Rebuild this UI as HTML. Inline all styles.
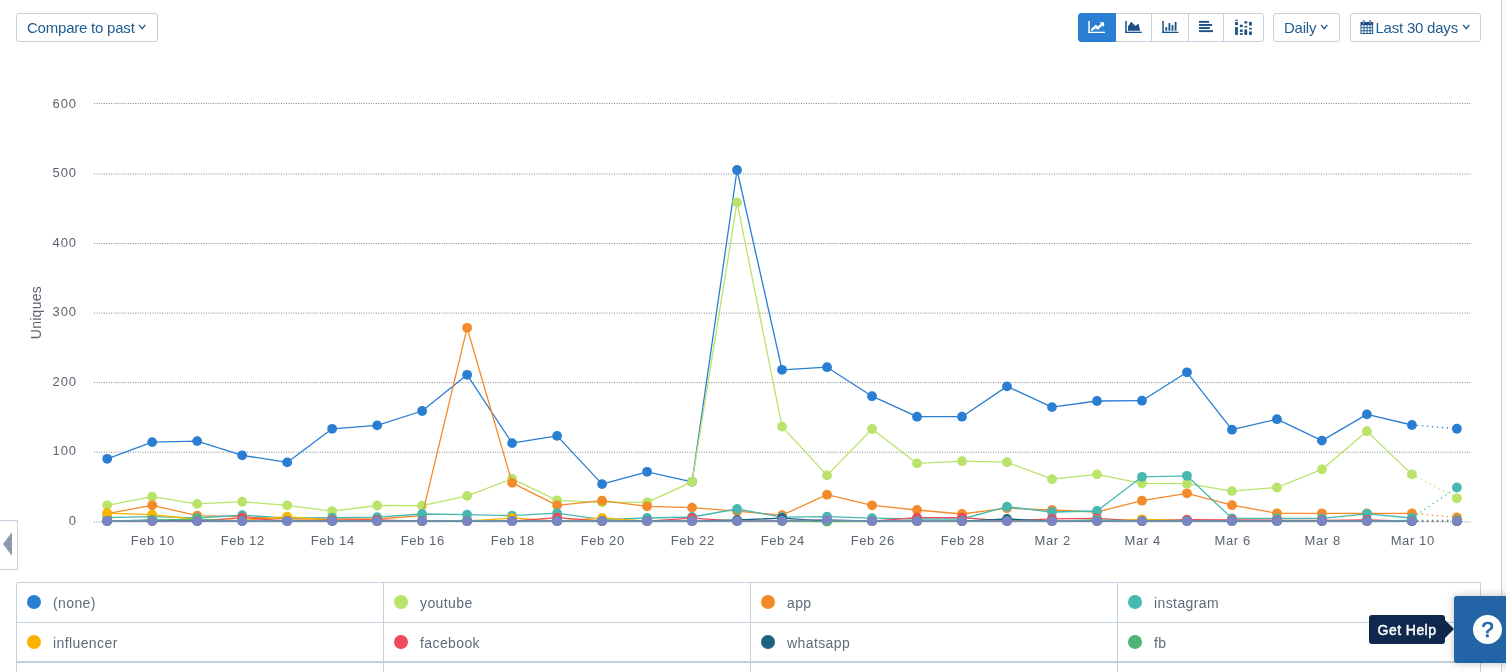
<!DOCTYPE html>
<html lang="en">
<head>
<meta charset="utf-8">
<title>Chart</title>
<style>
*{box-sizing:border-box;margin:0;padding:0}
html,body{width:1506px;height:672px;overflow:hidden;background:#fff}
body{position:relative;font-family:"Liberation Sans",sans-serif;color:#1d5a8c}
.abs{position:absolute}
.btn{position:absolute;top:13px;height:29px;border:1px solid #c5d0de;border-radius:3px;background:#fff;color:#1f5c8f;font-size:15px;letter-spacing:-0.22px;line-height:27px;white-space:nowrap}
.chart{position:absolute;left:0;top:0}
.ax{font-family:"Liberation Sans",sans-serif;font-size:13px;letter-spacing:.6px;fill:#5b6470}
.vline{position:absolute;left:1501px;top:0;width:5px;height:672px;background:#fafafa;border-left:1px solid #c9d1dc}
.tab{position:absolute;left:-1px;top:520px;width:19px;height:50px;border:1px solid #c5d0de;background:#fff}
.tab:after{content:"";position:absolute;left:3px;top:10.5px;border-right:9px solid #8b9bb3;border-top:12px solid transparent;border-bottom:12px solid transparent}
.legend{position:absolute;left:16px;top:582px;width:1465px;height:100px;border-left:1px solid #c5d0de;border-top:1px solid #c5d0de;border-right:1px solid #c5d0de;border-top-left-radius:2px;border-top-right-radius:2px}
.cell{position:absolute;height:40px;border-bottom:1px solid #c5d0de;border-right:1px solid #c5d0de;font-size:14px;letter-spacing:.4px;color:#5f6b7a;line-height:39px;padding-left:36px;padding-top:1px}
.cell i{position:absolute;left:10px;top:12px;width:14px;height:14px;border-radius:50%}
.help{position:absolute;left:1454px;top:596px;width:60px;height:67px;background:#2264a5;border-radius:3px;box-shadow:0 0 8px rgba(0,0,0,.25)}
.help b{position:absolute;left:19px;top:19px;width:29px;height:29px;border-radius:50%;background:#fff;color:#2264a5;font-size:22px;line-height:30px;text-align:center;font-weight:normal;-webkit-text-stroke:.7px #2264a5}
.tip{position:absolute;left:1369px;top:615px;width:76px;height:29px;background:#10284d;border-radius:3px;color:#fff;font-size:14px;font-weight:normal;-webkit-text-stroke:.45px #fff;letter-spacing:.45px;line-height:31px;text-align:center}
.tip:after{content:"";position:absolute;left:76px;top:5px;border-left:9px solid #10284d;border-top:9.5px solid transparent;border-bottom:9.5px solid transparent}

.grp{position:absolute;left:1078px;top:13px;width:186px;height:29px}
.gb{position:absolute;top:0;height:29px;border:1px solid #c5d0de;background:#fff}
.gb.on{z-index:1;background:#2b7fd3;border-color:#2b7fd3;border-radius:3px 0 0 3px}
</style>
</head>
<body>
<svg class="chart" width="1506" height="672" viewBox="0 0 1506 672">
<line x1="94" x2="1470.5" y1="103.5" y2="103.5" stroke="#80858c" stroke-width="1" stroke-dasharray="1 1.43"/>
<text x="77" y="107.60" text-anchor="end" class="ax" style="letter-spacing:.9px">600</text>
<line x1="94" x2="1470.5" y1="174.0" y2="174.0" stroke="#80858c" stroke-width="1" stroke-dasharray="1 1.43"/>
<text x="77" y="177.17" text-anchor="end" class="ax" style="letter-spacing:.9px">500</text>
<line x1="94" x2="1470.5" y1="243.5" y2="243.5" stroke="#80858c" stroke-width="1" stroke-dasharray="1 1.43"/>
<text x="77" y="246.74" text-anchor="end" class="ax" style="letter-spacing:.9px">400</text>
<line x1="94" x2="1470.5" y1="313.1" y2="313.1" stroke="#80858c" stroke-width="1" stroke-dasharray="1 1.43"/>
<text x="77" y="316.31" text-anchor="end" class="ax" style="letter-spacing:.9px">300</text>
<line x1="94" x2="1470.5" y1="382.6" y2="382.6" stroke="#80858c" stroke-width="1" stroke-dasharray="1 1.43"/>
<text x="77" y="385.88" text-anchor="end" class="ax" style="letter-spacing:.9px">200</text>
<line x1="94" x2="1470.5" y1="452.2" y2="452.2" stroke="#80858c" stroke-width="1" stroke-dasharray="1 1.43"/>
<text x="77" y="455.45" text-anchor="end" class="ax" style="letter-spacing:.9px">100</text>
<line x1="94" x2="1470.5" y1="521.9" y2="521.9" stroke="#80858c" stroke-width="1" stroke-dasharray="1 1.43"/>
<text x="77" y="525.02" text-anchor="end" class="ax" style="letter-spacing:.9px">0</text>
<text x="152.7" y="544.8" text-anchor="middle" class="ax">Feb 10</text>
<text x="242.7" y="544.8" text-anchor="middle" class="ax">Feb 12</text>
<text x="332.7" y="544.8" text-anchor="middle" class="ax">Feb 14</text>
<text x="422.7" y="544.8" text-anchor="middle" class="ax">Feb 16</text>
<text x="512.7" y="544.8" text-anchor="middle" class="ax">Feb 18</text>
<text x="602.7" y="544.8" text-anchor="middle" class="ax">Feb 20</text>
<text x="692.7" y="544.8" text-anchor="middle" class="ax">Feb 22</text>
<text x="782.7" y="544.8" text-anchor="middle" class="ax">Feb 24</text>
<text x="872.7" y="544.8" text-anchor="middle" class="ax">Feb 26</text>
<text x="962.7" y="544.8" text-anchor="middle" class="ax">Feb 28</text>
<text x="1052.7" y="544.8" text-anchor="middle" class="ax">Mar 2</text>
<text x="1142.7" y="544.8" text-anchor="middle" class="ax">Mar 4</text>
<text x="1232.7" y="544.8" text-anchor="middle" class="ax">Mar 6</text>
<text x="1322.7" y="544.8" text-anchor="middle" class="ax">Mar 8</text>
<text x="1412.7" y="544.8" text-anchor="middle" class="ax">Mar 10</text>
<text transform="translate(41,312.6) rotate(-90)" text-anchor="middle" class="ax" style="font-size:14px;letter-spacing:.25px">Uniques</text>
<g stroke="#2a7ed2" fill="#2a7ed2">
<polyline points="107.2,458.8 152.19,442.1 197.18,441.1 242.17,455.3 287.16,462.4 332.15,428.8 377.14,425.4 422.13,411 467.12,374.8 512.11,443.1 557.1,435.9 602.09,484.1 647.08,471.8 692.07,481.8 737.06,170.0 782.05,369.8 827.04,367.2 872.03,396.2 917.02,416.7 962.01,416.7 1007.0,386.4 1051.99,407.1 1096.98,401 1141.97,400.7 1186.96,372.3 1231.95,429.7 1276.94,419.2 1321.93,440.6 1366.92,414.4 1411.91,425" fill="none" stroke-width="1.3" stroke-linejoin="round"/>
<line x1="1411.91" y1="425" x2="1456.9" y2="428.75" stroke-width="1.3" stroke-dasharray="1.3 3.7"/>
<circle cx="107.2" cy="458.8" r="4.9" stroke="none"/>
<circle cx="152.19" cy="442.1" r="4.9" stroke="none"/>
<circle cx="197.18" cy="441.1" r="4.9" stroke="none"/>
<circle cx="242.17" cy="455.3" r="4.9" stroke="none"/>
<circle cx="287.16" cy="462.4" r="4.9" stroke="none"/>
<circle cx="332.15" cy="428.8" r="4.9" stroke="none"/>
<circle cx="377.14" cy="425.4" r="4.9" stroke="none"/>
<circle cx="422.13" cy="411" r="4.9" stroke="none"/>
<circle cx="467.12" cy="374.8" r="4.9" stroke="none"/>
<circle cx="512.11" cy="443.1" r="4.9" stroke="none"/>
<circle cx="557.1" cy="435.9" r="4.9" stroke="none"/>
<circle cx="602.09" cy="484.1" r="4.9" stroke="none"/>
<circle cx="647.08" cy="471.8" r="4.9" stroke="none"/>
<circle cx="692.07" cy="481.8" r="4.9" stroke="none"/>
<circle cx="737.06" cy="170.0" r="4.9" stroke="none"/>
<circle cx="782.05" cy="369.8" r="4.9" stroke="none"/>
<circle cx="827.04" cy="367.2" r="4.9" stroke="none"/>
<circle cx="872.03" cy="396.2" r="4.9" stroke="none"/>
<circle cx="917.02" cy="416.7" r="4.9" stroke="none"/>
<circle cx="962.01" cy="416.7" r="4.9" stroke="none"/>
<circle cx="1007.0" cy="386.4" r="4.9" stroke="none"/>
<circle cx="1051.99" cy="407.1" r="4.9" stroke="none"/>
<circle cx="1096.98" cy="401" r="4.9" stroke="none"/>
<circle cx="1141.97" cy="400.7" r="4.9" stroke="none"/>
<circle cx="1186.96" cy="372.3" r="4.9" stroke="none"/>
<circle cx="1231.95" cy="429.7" r="4.9" stroke="none"/>
<circle cx="1276.94" cy="419.2" r="4.9" stroke="none"/>
<circle cx="1321.93" cy="440.6" r="4.9" stroke="none"/>
<circle cx="1366.92" cy="414.4" r="4.9" stroke="none"/>
<circle cx="1411.91" cy="425" r="4.9" stroke="none"/>
<circle cx="1456.9" cy="428.75" r="4.9" stroke="none"/>
</g>
<g stroke="#b9e36a" fill="#b9e36a">
<polyline points="107.2,505.3 152.19,496.7 197.18,503.9 242.17,501.7 287.16,505.3 332.15,511.2 377.14,505.5 422.13,505.7 467.12,495.9 512.11,478.8 557.1,500.3 602.09,502.3 647.08,502.3 692.07,481.8 737.06,202.4 782.05,426.6 827.04,475.4 872.03,429 917.02,463.4 962.01,461.2 1007.0,462.2 1051.99,479.2 1096.98,474.4 1141.97,483.3 1186.96,483.7 1231.95,491.1 1276.94,487.5 1321.93,469.4 1366.92,431.25 1411.91,474.4" fill="none" stroke-width="1.3" stroke-linejoin="round"/>
<line x1="1411.91" y1="474.4" x2="1456.9" y2="498.3" stroke-width="1.3" stroke-dasharray="1.3 3.7"/>
<circle cx="107.2" cy="505.3" r="4.9" stroke="none"/>
<circle cx="152.19" cy="496.7" r="4.9" stroke="none"/>
<circle cx="197.18" cy="503.9" r="4.9" stroke="none"/>
<circle cx="242.17" cy="501.7" r="4.9" stroke="none"/>
<circle cx="287.16" cy="505.3" r="4.9" stroke="none"/>
<circle cx="332.15" cy="511.2" r="4.9" stroke="none"/>
<circle cx="377.14" cy="505.5" r="4.9" stroke="none"/>
<circle cx="422.13" cy="505.7" r="4.9" stroke="none"/>
<circle cx="467.12" cy="495.9" r="4.9" stroke="none"/>
<circle cx="512.11" cy="478.8" r="4.9" stroke="none"/>
<circle cx="557.1" cy="500.3" r="4.9" stroke="none"/>
<circle cx="602.09" cy="502.3" r="4.9" stroke="none"/>
<circle cx="647.08" cy="502.3" r="4.9" stroke="none"/>
<circle cx="692.07" cy="481.8" r="4.9" stroke="none"/>
<circle cx="737.06" cy="202.4" r="4.9" stroke="none"/>
<circle cx="782.05" cy="426.6" r="4.9" stroke="none"/>
<circle cx="827.04" cy="475.4" r="4.9" stroke="none"/>
<circle cx="872.03" cy="429" r="4.9" stroke="none"/>
<circle cx="917.02" cy="463.4" r="4.9" stroke="none"/>
<circle cx="962.01" cy="461.2" r="4.9" stroke="none"/>
<circle cx="1007.0" cy="462.2" r="4.9" stroke="none"/>
<circle cx="1051.99" cy="479.2" r="4.9" stroke="none"/>
<circle cx="1096.98" cy="474.4" r="4.9" stroke="none"/>
<circle cx="1141.97" cy="483.3" r="4.9" stroke="none"/>
<circle cx="1186.96" cy="483.7" r="4.9" stroke="none"/>
<circle cx="1231.95" cy="491.1" r="4.9" stroke="none"/>
<circle cx="1276.94" cy="487.5" r="4.9" stroke="none"/>
<circle cx="1321.93" cy="469.4" r="4.9" stroke="none"/>
<circle cx="1366.92" cy="431.25" r="4.9" stroke="none"/>
<circle cx="1411.91" cy="474.4" r="4.9" stroke="none"/>
<circle cx="1456.9" cy="498.3" r="4.9" stroke="none"/>
</g>
<g stroke="#f38b2c" fill="#f38b2c">
<polyline points="107.2,513.6 152.19,505.3 197.18,515.6 242.17,516.6 287.16,519 332.15,519 377.14,519 422.13,515.6 467.12,327.8 512.11,482.9 557.1,505.3 602.09,500.7 647.08,506.3 692.07,507.6 737.06,511.2 782.05,515.2 827.04,494.7 872.03,505.3 917.02,510 962.01,514 1007.0,508.2 1051.99,510 1096.98,512 1141.97,500.7 1186.96,493.3 1231.95,505.2 1276.94,513.3 1321.93,513.3 1366.92,513.5 1411.91,513.3" fill="none" stroke-width="1.3" stroke-linejoin="round"/>
<line x1="1411.91" y1="513.3" x2="1456.9" y2="517.5" stroke-width="1.3" stroke-dasharray="1.3 3.7"/>
<circle cx="107.2" cy="513.6" r="4.9" stroke="none"/>
<circle cx="152.19" cy="505.3" r="4.9" stroke="none"/>
<circle cx="197.18" cy="515.6" r="4.9" stroke="none"/>
<circle cx="242.17" cy="516.6" r="4.9" stroke="none"/>
<circle cx="287.16" cy="519" r="4.9" stroke="none"/>
<circle cx="332.15" cy="519" r="4.9" stroke="none"/>
<circle cx="377.14" cy="519" r="4.9" stroke="none"/>
<circle cx="422.13" cy="515.6" r="4.9" stroke="none"/>
<circle cx="467.12" cy="327.8" r="4.9" stroke="none"/>
<circle cx="512.11" cy="482.9" r="4.9" stroke="none"/>
<circle cx="557.1" cy="505.3" r="4.9" stroke="none"/>
<circle cx="602.09" cy="500.7" r="4.9" stroke="none"/>
<circle cx="647.08" cy="506.3" r="4.9" stroke="none"/>
<circle cx="692.07" cy="507.6" r="4.9" stroke="none"/>
<circle cx="737.06" cy="511.2" r="4.9" stroke="none"/>
<circle cx="782.05" cy="515.2" r="4.9" stroke="none"/>
<circle cx="827.04" cy="494.7" r="4.9" stroke="none"/>
<circle cx="872.03" cy="505.3" r="4.9" stroke="none"/>
<circle cx="917.02" cy="510" r="4.9" stroke="none"/>
<circle cx="962.01" cy="514" r="4.9" stroke="none"/>
<circle cx="1007.0" cy="508.2" r="4.9" stroke="none"/>
<circle cx="1051.99" cy="510" r="4.9" stroke="none"/>
<circle cx="1096.98" cy="512" r="4.9" stroke="none"/>
<circle cx="1141.97" cy="500.7" r="4.9" stroke="none"/>
<circle cx="1186.96" cy="493.3" r="4.9" stroke="none"/>
<circle cx="1231.95" cy="505.2" r="4.9" stroke="none"/>
<circle cx="1276.94" cy="513.3" r="4.9" stroke="none"/>
<circle cx="1321.93" cy="513.3" r="4.9" stroke="none"/>
<circle cx="1366.92" cy="513.5" r="4.9" stroke="none"/>
<circle cx="1411.91" cy="513.3" r="4.9" stroke="none"/>
<circle cx="1456.9" cy="517.5" r="4.9" stroke="none"/>
</g>
<g stroke="#47b8b0" fill="#47b8b0">
<polyline points="107.2,517.6 152.19,516.6 197.18,518 242.17,515.2 287.16,518.2 332.15,517.6 377.14,517.2 422.13,514 467.12,514.6 512.11,515.6 557.1,513.2 602.09,519.6 647.08,518 692.07,517 737.06,509 782.05,517.2 827.04,516.6 872.03,518.2 917.02,519 962.01,519 1007.0,506.7 1051.99,512 1096.98,511 1141.97,476.8 1186.96,475.8 1231.95,518.4 1276.94,518.5 1321.93,518.3 1366.92,513.8 1411.91,518" fill="none" stroke-width="1.3" stroke-linejoin="round"/>
<line x1="1411.91" y1="518" x2="1456.9" y2="487.5" stroke-width="1.3" stroke-dasharray="1.3 3.7"/>
<circle cx="107.2" cy="517.6" r="4.9" stroke="none"/>
<circle cx="152.19" cy="516.6" r="4.9" stroke="none"/>
<circle cx="197.18" cy="518" r="4.9" stroke="none"/>
<circle cx="242.17" cy="515.2" r="4.9" stroke="none"/>
<circle cx="287.16" cy="518.2" r="4.9" stroke="none"/>
<circle cx="332.15" cy="517.6" r="4.9" stroke="none"/>
<circle cx="377.14" cy="517.2" r="4.9" stroke="none"/>
<circle cx="422.13" cy="514" r="4.9" stroke="none"/>
<circle cx="467.12" cy="514.6" r="4.9" stroke="none"/>
<circle cx="512.11" cy="515.6" r="4.9" stroke="none"/>
<circle cx="557.1" cy="513.2" r="4.9" stroke="none"/>
<circle cx="602.09" cy="519.6" r="4.9" stroke="none"/>
<circle cx="647.08" cy="518" r="4.9" stroke="none"/>
<circle cx="692.07" cy="517" r="4.9" stroke="none"/>
<circle cx="737.06" cy="509" r="4.9" stroke="none"/>
<circle cx="782.05" cy="517.2" r="4.9" stroke="none"/>
<circle cx="827.04" cy="516.6" r="4.9" stroke="none"/>
<circle cx="872.03" cy="518.2" r="4.9" stroke="none"/>
<circle cx="917.02" cy="519" r="4.9" stroke="none"/>
<circle cx="962.01" cy="519" r="4.9" stroke="none"/>
<circle cx="1007.0" cy="506.7" r="4.9" stroke="none"/>
<circle cx="1051.99" cy="512" r="4.9" stroke="none"/>
<circle cx="1096.98" cy="511" r="4.9" stroke="none"/>
<circle cx="1141.97" cy="476.8" r="4.9" stroke="none"/>
<circle cx="1186.96" cy="475.8" r="4.9" stroke="none"/>
<circle cx="1231.95" cy="518.4" r="4.9" stroke="none"/>
<circle cx="1276.94" cy="518.5" r="4.9" stroke="none"/>
<circle cx="1321.93" cy="518.3" r="4.9" stroke="none"/>
<circle cx="1366.92" cy="513.8" r="4.9" stroke="none"/>
<circle cx="1411.91" cy="518" r="4.9" stroke="none"/>
<circle cx="1456.9" cy="487.5" r="4.9" stroke="none"/>
</g>
<g stroke="#f9b400" fill="#f9b400">
<polyline points="107.2,513.2 152.19,514.6 197.18,519.5 242.17,520.3 287.16,516.6 332.15,520.5 377.14,521.1 422.13,521.1 467.12,521.1 512.11,518 557.1,521.1 602.09,518 647.08,521.1 692.07,521.1 737.06,521.1 782.05,521.1 827.04,521.1 872.03,521.1 917.02,521.1 962.01,521.1 1007.0,521.1 1051.99,521.1 1096.98,521.1 1141.97,519.3 1186.96,520.5 1231.95,521.1 1276.94,521.1 1321.93,521.1 1366.92,521.1 1411.91,521.1" fill="none" stroke-width="1.3" stroke-linejoin="round"/>
<line x1="1411.91" y1="521.1" x2="1456.9" y2="521.1" stroke-width="1.3" stroke-dasharray="1.3 3.7"/>
<circle cx="107.2" cy="513.2" r="4.9" stroke="none"/>
<circle cx="152.19" cy="514.6" r="4.9" stroke="none"/>
<circle cx="197.18" cy="519.5" r="4.9" stroke="none"/>
<circle cx="242.17" cy="520.3" r="4.9" stroke="none"/>
<circle cx="287.16" cy="516.6" r="4.9" stroke="none"/>
<circle cx="332.15" cy="520.5" r="4.9" stroke="none"/>
<circle cx="377.14" cy="521.1" r="4.9" stroke="none"/>
<circle cx="422.13" cy="521.1" r="4.9" stroke="none"/>
<circle cx="467.12" cy="521.1" r="4.9" stroke="none"/>
<circle cx="512.11" cy="518" r="4.9" stroke="none"/>
<circle cx="557.1" cy="521.1" r="4.9" stroke="none"/>
<circle cx="602.09" cy="518" r="4.9" stroke="none"/>
<circle cx="647.08" cy="521.1" r="4.9" stroke="none"/>
<circle cx="692.07" cy="521.1" r="4.9" stroke="none"/>
<circle cx="737.06" cy="521.1" r="4.9" stroke="none"/>
<circle cx="782.05" cy="521.1" r="4.9" stroke="none"/>
<circle cx="827.04" cy="521.1" r="4.9" stroke="none"/>
<circle cx="872.03" cy="521.1" r="4.9" stroke="none"/>
<circle cx="917.02" cy="521.1" r="4.9" stroke="none"/>
<circle cx="962.01" cy="521.1" r="4.9" stroke="none"/>
<circle cx="1007.0" cy="521.1" r="4.9" stroke="none"/>
<circle cx="1051.99" cy="521.1" r="4.9" stroke="none"/>
<circle cx="1096.98" cy="521.1" r="4.9" stroke="none"/>
<circle cx="1141.97" cy="519.3" r="4.9" stroke="none"/>
<circle cx="1186.96" cy="520.5" r="4.9" stroke="none"/>
<circle cx="1231.95" cy="521.1" r="4.9" stroke="none"/>
<circle cx="1276.94" cy="521.1" r="4.9" stroke="none"/>
<circle cx="1321.93" cy="521.1" r="4.9" stroke="none"/>
<circle cx="1366.92" cy="521.1" r="4.9" stroke="none"/>
<circle cx="1411.91" cy="521.1" r="4.9" stroke="none"/>
<circle cx="1456.9" cy="521.1" r="4.9" stroke="none"/>
</g>
<g stroke="#ef4a59" fill="#ef4a59">
<polyline points="107.2,521.1 152.19,521.1 197.18,521.1 242.17,517.6 287.16,521.1 332.15,520.2 377.14,520 422.13,521.1 467.12,521.1 512.11,521.1 557.1,517.6 602.09,521.1 647.08,521.1 692.07,518.2 737.06,521.1 782.05,521.1 827.04,521.1 872.03,521.1 917.02,517.6 962.01,517.6 1007.0,521.1 1051.99,518.8 1096.98,518.4 1141.97,521.1 1186.96,519.6 1231.95,520 1276.94,520.3 1321.93,520.3 1366.92,520 1411.91,521.1" fill="none" stroke-width="1.3" stroke-linejoin="round"/>
<line x1="1411.91" y1="521.1" x2="1456.9" y2="521.1" stroke-width="1.3" stroke-dasharray="1.3 3.7"/>
<circle cx="107.2" cy="521.1" r="4.9" stroke="none"/>
<circle cx="152.19" cy="521.1" r="4.9" stroke="none"/>
<circle cx="197.18" cy="521.1" r="4.9" stroke="none"/>
<circle cx="242.17" cy="517.6" r="4.9" stroke="none"/>
<circle cx="287.16" cy="521.1" r="4.9" stroke="none"/>
<circle cx="332.15" cy="520.2" r="4.9" stroke="none"/>
<circle cx="377.14" cy="520" r="4.9" stroke="none"/>
<circle cx="422.13" cy="521.1" r="4.9" stroke="none"/>
<circle cx="467.12" cy="521.1" r="4.9" stroke="none"/>
<circle cx="512.11" cy="521.1" r="4.9" stroke="none"/>
<circle cx="557.1" cy="517.6" r="4.9" stroke="none"/>
<circle cx="602.09" cy="521.1" r="4.9" stroke="none"/>
<circle cx="647.08" cy="521.1" r="4.9" stroke="none"/>
<circle cx="692.07" cy="518.2" r="4.9" stroke="none"/>
<circle cx="737.06" cy="521.1" r="4.9" stroke="none"/>
<circle cx="782.05" cy="521.1" r="4.9" stroke="none"/>
<circle cx="827.04" cy="521.1" r="4.9" stroke="none"/>
<circle cx="872.03" cy="521.1" r="4.9" stroke="none"/>
<circle cx="917.02" cy="517.6" r="4.9" stroke="none"/>
<circle cx="962.01" cy="517.6" r="4.9" stroke="none"/>
<circle cx="1007.0" cy="521.1" r="4.9" stroke="none"/>
<circle cx="1051.99" cy="518.8" r="4.9" stroke="none"/>
<circle cx="1096.98" cy="518.4" r="4.9" stroke="none"/>
<circle cx="1141.97" cy="521.1" r="4.9" stroke="none"/>
<circle cx="1186.96" cy="519.6" r="4.9" stroke="none"/>
<circle cx="1231.95" cy="520" r="4.9" stroke="none"/>
<circle cx="1276.94" cy="520.3" r="4.9" stroke="none"/>
<circle cx="1321.93" cy="520.3" r="4.9" stroke="none"/>
<circle cx="1366.92" cy="520" r="4.9" stroke="none"/>
<circle cx="1411.91" cy="521.1" r="4.9" stroke="none"/>
<circle cx="1456.9" cy="521.1" r="4.9" stroke="none"/>
</g>
<g stroke="#1d6380" fill="#1d6380">
<polyline points="107.2,521.1 152.19,520.5 197.18,521.1 242.17,521.1 287.16,521.1 332.15,521.1 377.14,521.1 422.13,521.1 467.12,521.1 512.11,521.1 557.1,521.1 602.09,521.1 647.08,521.1 692.07,521.1 737.06,520 782.05,518.2 827.04,521.1 872.03,521.1 917.02,521.1 962.01,521.1 1007.0,519 1051.99,521.1 1096.98,521.1 1141.97,521.1 1186.96,521.1 1231.95,521.1 1276.94,521.1 1321.93,521.1 1366.92,521.1 1411.91,521.1" fill="none" stroke-width="1.3" stroke-linejoin="round"/>
<line x1="1411.91" y1="521.1" x2="1456.9" y2="521.1" stroke-width="1.3" stroke-dasharray="1.3 3.7"/>
<circle cx="107.2" cy="521.1" r="4.9" stroke="none"/>
<circle cx="152.19" cy="520.5" r="4.9" stroke="none"/>
<circle cx="197.18" cy="521.1" r="4.9" stroke="none"/>
<circle cx="242.17" cy="521.1" r="4.9" stroke="none"/>
<circle cx="287.16" cy="521.1" r="4.9" stroke="none"/>
<circle cx="332.15" cy="521.1" r="4.9" stroke="none"/>
<circle cx="377.14" cy="521.1" r="4.9" stroke="none"/>
<circle cx="422.13" cy="521.1" r="4.9" stroke="none"/>
<circle cx="467.12" cy="521.1" r="4.9" stroke="none"/>
<circle cx="512.11" cy="521.1" r="4.9" stroke="none"/>
<circle cx="557.1" cy="521.1" r="4.9" stroke="none"/>
<circle cx="602.09" cy="521.1" r="4.9" stroke="none"/>
<circle cx="647.08" cy="521.1" r="4.9" stroke="none"/>
<circle cx="692.07" cy="521.1" r="4.9" stroke="none"/>
<circle cx="737.06" cy="520" r="4.9" stroke="none"/>
<circle cx="782.05" cy="518.2" r="4.9" stroke="none"/>
<circle cx="827.04" cy="521.1" r="4.9" stroke="none"/>
<circle cx="872.03" cy="521.1" r="4.9" stroke="none"/>
<circle cx="917.02" cy="521.1" r="4.9" stroke="none"/>
<circle cx="962.01" cy="521.1" r="4.9" stroke="none"/>
<circle cx="1007.0" cy="519" r="4.9" stroke="none"/>
<circle cx="1051.99" cy="521.1" r="4.9" stroke="none"/>
<circle cx="1096.98" cy="521.1" r="4.9" stroke="none"/>
<circle cx="1141.97" cy="521.1" r="4.9" stroke="none"/>
<circle cx="1186.96" cy="521.1" r="4.9" stroke="none"/>
<circle cx="1231.95" cy="521.1" r="4.9" stroke="none"/>
<circle cx="1276.94" cy="521.1" r="4.9" stroke="none"/>
<circle cx="1321.93" cy="521.1" r="4.9" stroke="none"/>
<circle cx="1366.92" cy="521.1" r="4.9" stroke="none"/>
<circle cx="1411.91" cy="521.1" r="4.9" stroke="none"/>
<circle cx="1456.9" cy="521.1" r="4.9" stroke="none"/>
</g>
<g stroke="#4db578" fill="#4db578">
<polyline points="107.2,521.1 152.19,520 197.18,519.3 242.17,521.1 287.16,521.1 332.15,521.1 377.14,521.1 422.13,521.1 467.12,520.5 512.11,521.1 557.1,521.1 602.09,521.1 647.08,521.1 692.07,521.1 737.06,521.1 782.05,521.1 827.04,521.6 872.03,521.1 917.02,521.1 962.01,521.1 1007.0,521.1 1051.99,521.1 1096.98,520 1141.97,521.1 1186.96,521.1 1231.95,521.1 1276.94,521.1 1321.93,521.1 1366.92,521.1 1411.91,520.5" fill="none" stroke-width="1.3" stroke-linejoin="round"/>
<line x1="1411.91" y1="520.5" x2="1456.9" y2="520.2" stroke-width="1.3" stroke-dasharray="1.3 3.7"/>
<circle cx="107.2" cy="521.1" r="4.9" stroke="none"/>
<circle cx="152.19" cy="520" r="4.9" stroke="none"/>
<circle cx="197.18" cy="519.3" r="4.9" stroke="none"/>
<circle cx="242.17" cy="521.1" r="4.9" stroke="none"/>
<circle cx="287.16" cy="521.1" r="4.9" stroke="none"/>
<circle cx="332.15" cy="521.1" r="4.9" stroke="none"/>
<circle cx="377.14" cy="521.1" r="4.9" stroke="none"/>
<circle cx="422.13" cy="521.1" r="4.9" stroke="none"/>
<circle cx="467.12" cy="520.5" r="4.9" stroke="none"/>
<circle cx="512.11" cy="521.1" r="4.9" stroke="none"/>
<circle cx="557.1" cy="521.1" r="4.9" stroke="none"/>
<circle cx="602.09" cy="521.1" r="4.9" stroke="none"/>
<circle cx="647.08" cy="521.1" r="4.9" stroke="none"/>
<circle cx="692.07" cy="521.1" r="4.9" stroke="none"/>
<circle cx="737.06" cy="521.1" r="4.9" stroke="none"/>
<circle cx="782.05" cy="521.1" r="4.9" stroke="none"/>
<circle cx="827.04" cy="521.6" r="4.9" stroke="none"/>
<circle cx="872.03" cy="521.1" r="4.9" stroke="none"/>
<circle cx="917.02" cy="521.1" r="4.9" stroke="none"/>
<circle cx="962.01" cy="521.1" r="4.9" stroke="none"/>
<circle cx="1007.0" cy="521.1" r="4.9" stroke="none"/>
<circle cx="1051.99" cy="521.1" r="4.9" stroke="none"/>
<circle cx="1096.98" cy="520" r="4.9" stroke="none"/>
<circle cx="1141.97" cy="521.1" r="4.9" stroke="none"/>
<circle cx="1186.96" cy="521.1" r="4.9" stroke="none"/>
<circle cx="1231.95" cy="521.1" r="4.9" stroke="none"/>
<circle cx="1276.94" cy="521.1" r="4.9" stroke="none"/>
<circle cx="1321.93" cy="521.1" r="4.9" stroke="none"/>
<circle cx="1366.92" cy="521.1" r="4.9" stroke="none"/>
<circle cx="1411.91" cy="520.5" r="4.9" stroke="none"/>
<circle cx="1456.9" cy="520.2" r="4.9" stroke="none"/>
</g>
<g stroke="#7b84c4" fill="#7b84c4">
<polyline points="107.2,521.1 152.19,521.1 197.18,521.1 242.17,521.1 287.16,521.1 332.15,521.1 377.14,521.1 422.13,521.1 467.12,521.1 512.11,521.1 557.1,521.1 602.09,521.1 647.08,521.1 692.07,521.1 737.06,521.1 782.05,520.6 827.04,519.6 872.03,521.1 917.02,521.1 962.01,521.1 1007.0,521.1 1051.99,521.1 1096.98,521.1 1141.97,521.1 1186.96,521.1 1231.95,521.1 1276.94,521.1 1321.93,521.1 1366.92,521.1 1411.91,521.1" fill="none" stroke-width="1.3" stroke-linejoin="round"/>
<line x1="1411.91" y1="521.1" x2="1456.9" y2="521.1" stroke-width="1.3" stroke-dasharray="1.3 3.7"/>
<circle cx="107.2" cy="521.1" r="4.9" stroke="none"/>
<circle cx="152.19" cy="521.1" r="4.9" stroke="none"/>
<circle cx="197.18" cy="521.1" r="4.9" stroke="none"/>
<circle cx="242.17" cy="521.1" r="4.9" stroke="none"/>
<circle cx="287.16" cy="521.1" r="4.9" stroke="none"/>
<circle cx="332.15" cy="521.1" r="4.9" stroke="none"/>
<circle cx="377.14" cy="521.1" r="4.9" stroke="none"/>
<circle cx="422.13" cy="521.1" r="4.9" stroke="none"/>
<circle cx="467.12" cy="521.1" r="4.9" stroke="none"/>
<circle cx="512.11" cy="521.1" r="4.9" stroke="none"/>
<circle cx="557.1" cy="521.1" r="4.9" stroke="none"/>
<circle cx="602.09" cy="521.1" r="4.9" stroke="none"/>
<circle cx="647.08" cy="521.1" r="4.9" stroke="none"/>
<circle cx="692.07" cy="521.1" r="4.9" stroke="none"/>
<circle cx="737.06" cy="521.1" r="4.9" stroke="none"/>
<circle cx="782.05" cy="520.6" r="4.9" stroke="none"/>
<circle cx="827.04" cy="519.6" r="4.9" stroke="none"/>
<circle cx="872.03" cy="521.1" r="4.9" stroke="none"/>
<circle cx="917.02" cy="521.1" r="4.9" stroke="none"/>
<circle cx="962.01" cy="521.1" r="4.9" stroke="none"/>
<circle cx="1007.0" cy="521.1" r="4.9" stroke="none"/>
<circle cx="1051.99" cy="521.1" r="4.9" stroke="none"/>
<circle cx="1096.98" cy="521.1" r="4.9" stroke="none"/>
<circle cx="1141.97" cy="521.1" r="4.9" stroke="none"/>
<circle cx="1186.96" cy="521.1" r="4.9" stroke="none"/>
<circle cx="1231.95" cy="521.1" r="4.9" stroke="none"/>
<circle cx="1276.94" cy="521.1" r="4.9" stroke="none"/>
<circle cx="1321.93" cy="521.1" r="4.9" stroke="none"/>
<circle cx="1366.92" cy="521.1" r="4.9" stroke="none"/>
<circle cx="1411.91" cy="521.1" r="4.9" stroke="none"/>
<circle cx="1456.9" cy="521.1" r="4.9" stroke="none"/>
</g>
</svg>
<div class="vline"></div>
<div class="btn" style="left:16px;width:142px;padding-left:10px">Compare to past<svg width="9" height="7" viewBox="0 0 9 7" style="position:absolute;left:121.3px;top:9.9px"><path d="M1.1 0.8 L4.2 4.7 L7.3 0.8" fill="none" stroke="#1f5c90" stroke-width="1.35"/></svg></div>

<div class="grp">
<div class="gb on" style="left:0;width:38px"></div>
<div class="gb" style="left:37px;width:37px"></div>
<div class="gb" style="left:73px;width:38px"></div>
<div class="gb" style="left:110px;width:36px"></div>
<div class="gb" style="left:145px;width:41px;border-radius:0 3px 3px 0"></div>
</div>
<svg class="icons" width="190" height="29" viewBox="1078 13 190 29" style="position:absolute;left:1078px;top:13px;z-index:2">
<!-- line chart -->
<g fill="#fff" stroke="none">
<rect x="1088.3" y="21" width="1.5" height="12"/>
<rect x="1088.3" y="31.7" width="16.7" height="1.3"/>
<polygon points="1099.4,22.2 1104.1,22.2 1104.1,27 1102.5,25.4 1097.7,30 1095.9,28.2 1092,31 1090.6,29.6 1095.9,24.6 1097.6,26.6 1101,23.8"/>
</g>
<!-- area chart -->
<g fill="#1a5085" stroke="none">
<rect x="1125.2" y="21" width="1.5" height="12"/>
<rect x="1125.2" y="31.7" width="16.6" height="1.3"/>
<polygon points="1128,30.7 1128,26.4 1131.2,21.8 1135.4,25.9 1138.5,23.5 1140.2,30.7"/>
<!-- bar chart -->
<rect x="1162.3" y="21" width="1.5" height="12"/>
<rect x="1162.3" y="31.7" width="16.2" height="1.3"/>
<rect x="1165.4" y="27.1" width="1.8" height="3.7"/>
<rect x="1168.5" y="23.1" width="1.8" height="7.7"/>
<rect x="1171.6" y="25.1" width="1.8" height="5.7"/>
<rect x="1174.7" y="22" width="1.8" height="8.7"/>
<!-- align left -->
<rect x="1199" y="20.9" width="10" height="1.9"/>
<rect x="1199" y="24" width="13" height="1.9"/>
<rect x="1199" y="27.1" width="10.8" height="1.9"/>
<rect x="1199" y="30.2" width="14" height="1.9"/>
<!-- stacked -->
<rect x="1235.1" y="19.7" width="2.8" height="1.1"/>
<rect x="1235.1" y="22" width="2.8" height="3.1"/>
<rect x="1235.1" y="27.1" width="2.8" height="7.8"/>
<rect x="1239.9" y="24.7" width="2.8" height="2.4"/>
<rect x="1239.9" y="29.5" width="2.8" height="2.4"/>
<rect x="1239.9" y="33.1" width="2.8" height="1.8"/>
<rect x="1244.4" y="21.2" width="2.8" height="2.3"/>
<rect x="1244.4" y="25.9" width="2.8" height="1.6"/>
<rect x="1244.4" y="29.5" width="2.8" height="5.4"/>
<rect x="1249" y="22" width="2.8" height="3.5"/>
<rect x="1249" y="27.9" width="2.8" height="1.6"/>
<rect x="1249" y="31.5" width="2.8" height="3.4"/>
</g>
</svg>
<div class="btn" style="left:1273px;width:67px;padding-left:10px">Daily<svg width="9" height="7" viewBox="0 0 9 7" style="position:absolute;left:46.2px;top:9.9px"><path d="M1.1 0.8 L4.2 4.7 L7.3 0.8" fill="none" stroke="#1f5c90" stroke-width="1.35"/></svg></div>
<div class="btn" style="left:1350px;width:131px;padding-left:24.5px"><svg width="14" height="15" viewBox="1360 20 14 15" style="position:absolute;left:9px;top:6px">
<g fill="#1a5085"><rect x="1360.5" y="22" width="12.6" height="12"/><rect x="1362.7" y="20.2" width="1.9" height="4" rx=".9"/><rect x="1369.2" y="20.2" width="1.9" height="4" rx=".9"/></g>
<g fill="#fff">
<rect x="1363.2" y="21.2" width=".9" height="2.4" fill="#e9b9a0"/><rect x="1369.7" y="21.2" width=".9" height="2.4" fill="#e9b9a0"/>
<rect x="1361.5" y="25.2" width="2.1" height="2.1"/><rect x="1364.5" y="25.2" width="2.1" height="2.1"/><rect x="1367.5" y="25.2" width="2.1" height="2.1"/><rect x="1370.5" y="25.2" width="1.7" height="2.1"/>
<rect x="1361.5" y="28.2" width="2.1" height="2.1"/><rect x="1364.5" y="28.2" width="2.1" height="2.1"/><rect x="1367.5" y="28.2" width="2.1" height="2.1"/><rect x="1370.5" y="28.2" width="1.7" height="2.1"/>
<rect x="1361.5" y="31.2" width="2.1" height="1.9"/><rect x="1364.5" y="31.2" width="2.1" height="1.9"/><rect x="1367.5" y="31.2" width="2.1" height="1.9"/><rect x="1370.5" y="31.2" width="1.7" height="1.9"/>
</g></svg>Last 30 days<svg width="9" height="7" viewBox="0 0 9 7" style="position:absolute;left:110.6px;top:9.9px"><path d="M1.1 0.8 L4.2 4.7 L7.3 0.8" fill="none" stroke="#1f5c90" stroke-width="1.35"/></svg></div>

<div class="tab"></div>
<div class="legend">
<div class="cell" style="left:0;top:0;width:367px"><i style="background:#2a7ed2"></i>(none)</div>
<div class="cell" style="left:367px;top:0;width:367px"><i style="background:#b9e36a"></i>youtube</div>
<div class="cell" style="left:734px;top:0;width:367px"><i style="background:#f38b2c"></i>app</div>
<div class="cell" style="left:1101px;top:0;width:363px;border-right:0"><i style="background:#47b8b0"></i>instagram</div>
<div class="cell" style="left:0;top:40px;width:367px;border-bottom-width:2px;line-height:38px"><i style="background:#f9b400"></i>influencer</div>
<div class="cell" style="left:367px;top:40px;width:367px;border-bottom-width:2px;line-height:38px"><i style="background:#ef4a59"></i>facebook</div>
<div class="cell" style="left:734px;top:40px;width:367px;border-bottom-width:2px;line-height:38px"><i style="background:#1d6380"></i>whatsapp</div>
<div class="cell" style="left:1101px;top:40px;width:363px;border-right:0;border-bottom-width:2px;line-height:38px"><i style="background:#4db578"></i>fb</div>
<div class="cell" style="left:0;top:80px;width:367px"></div>
<div class="cell" style="left:367px;top:80px;width:367px"></div>
<div class="cell" style="left:734px;top:80px;width:367px"></div>
<div class="cell" style="left:1101px;top:80px;width:363px;border-right:0"></div>
</div>
<div class="tip">Get Help</div>
<div class="help"><b>?</b></div>
</body>
</html>
